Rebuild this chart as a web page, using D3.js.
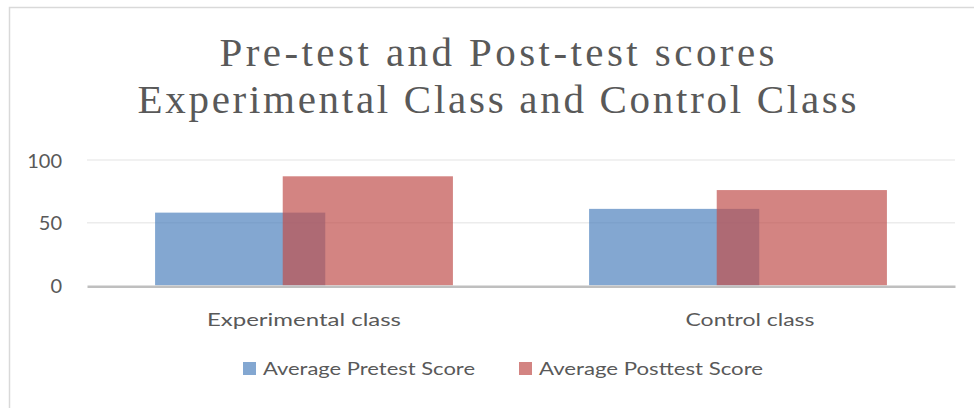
<!DOCTYPE html>
<html>
<head>
<meta charset="utf-8">
<script src="https://cdn.jsdelivr.net/npm/d3@7"></script>
<style>
  body { margin: 0; background: #fff; }
  svg { display: block; }
  text { fill: #595959; }
</style>
</head>
<body>
<svg id="chart"></svg>
<script>
const categories = ['Experimental class', 'Control class'];
const seriesNames = ['Average Pretest Score', 'Average Posttest Score'];
const pretest = [58, 61];
const posttest = [87, 76];
const yTicks = [0, 50, 100];
const titleLines = ['Pre-test and Post-test scores', 'Experimental Class and Control Class'];

const colors = ['#4F81BD', '#C0504D'];
const W = 974, H = 408;
const plotLeft = 87, plotRight = 955, plotTop = 160, plotBottom = 285.3;
const gapRatio = 0.8, overlap = 0.25;

const svg = d3.select('#chart').attr('width', W).attr('height', H);

// chart border (only top + left visible in the crop)
svg.append('path')
  .attr('d', 'M9.5,' + H + 'V7.5H' + W)
  .attr('fill', 'none').attr('stroke', '#d9d9d9').attr('stroke-width', 1.5);

// title
const titleSizes = [555, 719];
svg.append('g').selectAll('text')
  .data(titleLines)
  .join('text')
  .attr('x', 497)
  .attr('y', (d, i) => 66 + i * 47)
  .attr('text-anchor', 'middle')
  .attr('font-family', 'Liberation Serif, serif')
  .attr('font-size', 41)
  .attr('fill', '#5f5f5f')
  .attr('textLength', (d, i) => titleSizes[i])
  .attr('lengthAdjust', 'spacing')
  .text(d => d);

const x = d3.scaleBand().domain(categories).range([plotLeft, plotRight]);
const y = d3.scaleLinear().domain([0, 100]).range([plotBottom, plotTop]);

// gridlines
svg.append('g').selectAll('line')
  .data(yTicks.filter(d => d > 0))
  .join('line')
  .attr('x1', plotLeft).attr('x2', plotRight)
  .attr('y1', d => y(d)).attr('y2', d => y(d))
  .attr('stroke', '#ececec').attr('stroke-width', 1.5);

// y axis labels
const yAxis = svg.append('g')
  .attr('transform', `translate(${plotLeft - 25},0)`)
  .call(d3.axisLeft(y).tickValues(yTicks).tickSize(0).tickPadding(0));
yAxis.select('.domain').remove();
yAxis.selectAll('text')
  .attr('font-family', 'Lato, sans-serif')
  .attr('font-size', 20)
  .attr('fill', '#595959')
  .attr('dy', '0.35em');

// bars
const barW = x.bandwidth() / (2 - overlap + gapRatio);
const series = [pretest, posttest];
series.forEach((vals, s) => {
  svg.append('g').selectAll('rect')
    .data(vals)
    .join('rect')
    .attr('x', (d, i) => x(categories[i]) + gapRatio * barW / 2 + s * barW * (1 - overlap))
    .attr('y', d => y(d))
    .attr('width', barW)
    .attr('height', d => y(0) - y(d))
    .attr('fill', colors[s])
    .attr('fill-opacity', 0.7);
});

// x axis
const xAxis = svg.append('g')
  .attr('transform', `translate(0,${plotBottom + 1})`)
  .call(d3.axisBottom(x).tickSize(0).tickPadding(27));
xAxis.select('.domain').attr('stroke', '#bfbfbf').attr('stroke-width', 2.5);
const catLen = [194, 129], catShift = [0, 12];
xAxis.selectAll('text')
  .attr('font-family', 'Lato, sans-serif')
  .attr('font-size', 18)
  .attr('fill', '#595959')
  .attr('dx', (d, i) => catShift[i])
  .attr('textLength', (d, i) => catLen[i])
  .attr('lengthAdjust', 'spacingAndGlyphs');

// legend
const legX = [243, 519], legLen = [212, 224];
const leg = svg.append('g').selectAll('g')
  .data(seriesNames)
  .join('g')
  .attr('transform', (d, i) => `translate(${legX[i]},362)`);
leg.append('rect')
  .attr('width', 13).attr('height', 13)
  .attr('fill', (d, i) => colors[i]).attr('fill-opacity', 0.7);
leg.append('text')
  .attr('x', 20).attr('y', 13)
  .attr('font-family', 'Lato, sans-serif')
  .attr('font-size', 18)
  .attr('textLength', (d, i) => legLen[i])
  .attr('lengthAdjust', 'spacingAndGlyphs')
  .text(d => d);
</script>
</body>
</html>
